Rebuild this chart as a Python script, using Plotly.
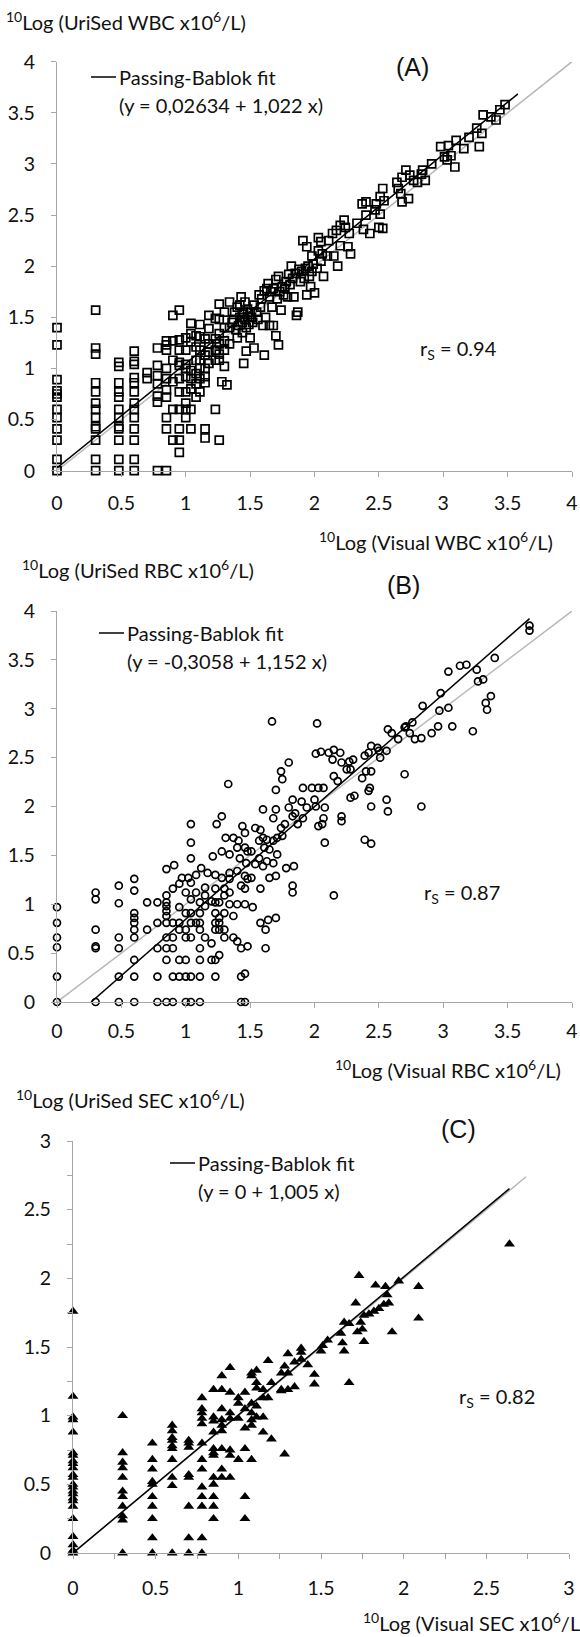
import plotly.graph_objects as go

W, H = 580, 1637

# ---------------- DATA ----------------
# Panel A: 10Log Visual WBC (x) vs 10Log UriSed WBC (y)
wbc_points = [
    (0, 1.40), (0, 1.23), (0, 0.89), (0, 0.78), (0, 0.75), (0, 0.72), (0, 0.60), (0, 0.52), (0, 0.41), (0, 0.30), (0, 0.11), (0, 0),
    (0.30, 1.57), (0.30, 1.20), (0.30, 1.14), (0.30, 0.86), (0.30, 0.77), (0.30, 0.66), (0.30, 0.60), (0.30, 0.52), (0.30, 0.43), (0.30, 0.41), (0.30, 0.30), (0.30, 0.11), (0.30, 0),
    (0.48, 1.06), (0.48, 1.02), (0.48, 0.86), (0.48, 0.77), (0.48, 0.72), (0.48, 0.60), (0.48, 0.52), (0.48, 0.43), (0.48, 0.41), (0.48, 0.30), (0.48, 0.11), (0.48, 0),
    (0.60, 1.17), (0.60, 1.07), (0.60, 1.04), (0.60, 0.91), (0.60, 0.86), (0.60, 0.77), (0.60, 0.66), (0.60, 0.60), (0.60, 0.52), (0.60, 0.41), (0.60, 0.30), (0.60, 0.11), (0.60, 0),
    (0.70, 0.96), (0.70, 0.90),
    (0.78, 1.20), (0.78, 1.03), (0.78, 0.93), (0.78, 0.85), (0.78, 0.73), (0.78, 0.67), (0.78, 0),
    (0.85, 1.27), (0.85, 1.23), (0.85, 1.18), (0.85, 1.00), (0.85, 0.90), (0.85, 0.79), (0.85, 0.72), (0.85, 0.52), (0.85, 0.41), (0.85, 0),
    (0.90, 1.52), (0.90, 1.27), (0.90, 1.08), (0.90, 0.87), (0.90, 0.60), (0.90, 0.30),
    (0.95, 1.57), (0.95, 1.28), (0.95, 1.18), (0.95, 1.06), (0.95, 1.03), (0.95, 0.90), (0.95, 0.77), (0.95, 0.60), (0.95, 0.41), (0.95, 0.30), (0.95, 0.18),
    (1.00, 1.30), (1.00, 1.18), (1.00, 1.04), (1.00, 1.00), (1.00, 0.92), (1.00, 0.77), (1.00, 0.66), (1.00, 0.60), (1.00, 0.52),
    (1.04, 1.44), (1.04, 1.34), (1.04, 1.26), (1.04, 0.98), (1.04, 0.90), (1.04, 0.80), (1.04, 0.60), (1.04, 0.41),
    (1.08, 1.32), (1.08, 1.21), (1.08, 1.08), (1.08, 0.95), (1.08, 0.85), (1.08, 0.72),
    (1.11, 1.43), (1.11, 1.31), (1.11, 1.18), (1.11, 1.08), (1.11, 1.00), (1.11, 0.90), (1.11, 0.77),
    (1.15, 1.29), (1.15, 1.13), (1.15, 1.00), (1.15, 0.92), (1.15, 0.86), (1.15, 0.41), (1.15, 0.32),
    (1.18, 1.52), (1.18, 1.39), (1.18, 1.24), (1.18, 1.16), (1.18, 1.05),
    (1.23, 1.49), (1.23, 1.29), (1.23, 1.18), (1.23, 1.08), (1.23, 0.60),
    (1.26, 1.63), (1.26, 1.48), (1.26, 1.34), (1.26, 1.24), (1.26, 1.14), (1.26, 1.08), (1.26, 0.30),
    (1.30, 1.55), (1.30, 1.40), (1.30, 1.27), (1.30, 1.18), (1.30, 1.02), (1.28, 0.87), (1.32, 0.84),
    (1.34, 1.65), (1.34, 1.40), (1.34, 1.24),
    (1.40, 1.60), (1.42, 1.50), (1.44, 1.45), (1.45, 1.55), (1.46, 1.65), (1.47, 1.40), (1.48, 1.50), (1.50, 1.55),
    (1.43, 1.70), (1.38, 1.55), (1.41, 1.42), (1.44, 1.35), (1.45, 1.05), (1.47, 1.17), (1.50, 1.30), (1.52, 1.45),
    (1.53, 1.20), (1.55, 1.55), (1.57, 1.72), (1.58, 1.60), (1.60, 1.42), (1.61, 1.13), (1.62, 1.50), (1.65, 1.42),
    (1.68, 1.42), (1.70, 1.32), (1.72, 1.23), (1.74, 1.57), (1.67, 1.60), (1.63, 1.78), (1.64, 1.83), (1.66, 1.75),
    (1.70, 1.87), (1.72, 1.90), (1.75, 1.80), (1.76, 1.72), (1.78, 1.85), (1.80, 1.92), (1.82, 2.00), (1.84, 1.70),
    (1.86, 1.52), (1.87, 1.55), (1.88, 1.97), (1.90, 1.95), (1.92, 1.88), (1.94, 1.72), (1.95, 2.00), (1.97, 1.80),
    (1.98, 1.95), (2.00, 1.74), (2.02, 1.98), (2.05, 2.05), (2.07, 1.90), (2.10, 2.10), (2.15, 2.10), (2.18, 2.00),
    (2.20, 2.20), (2.28, 2.12),
    (1.36, 1.45), (1.39, 1.38), (1.42, 1.62), (1.46, 1.48), (1.48, 1.58), (1.49, 1.43), (1.51, 1.50), (1.44, 1.53),
    (1.37, 1.48), (1.40, 1.30), (1.53, 1.62), (1.56, 1.48), (1.59, 1.68), (1.61, 1.76), (1.65, 1.70), (1.68, 1.78),
    (1.71, 1.68), (1.73, 1.75), (1.77, 1.78), (1.79, 1.70), (1.81, 1.82), (1.83, 1.88), (1.85, 1.93), (1.89, 1.85),
    (1.93, 1.98), (1.96, 1.90), (1.99, 2.02), (2.03, 2.15), (2.06, 2.12), (1.98, 2.10),
    (1.91, 2.25), (1.94, 2.19), (2.03, 2.28), (2.05, 2.24), (2.11, 2.25), (2.14, 2.32), (2.17, 2.35), (2.20, 2.40),
    (2.23, 2.45), (2.24, 2.38), (2.26, 2.19), (2.27, 2.32), (2.33, 2.42), (2.38, 2.36), (2.43, 2.32), (2.40, 2.50),
    (2.37, 2.61), (2.40, 2.63), (2.47, 2.55), (2.48, 2.61), (2.51, 2.68), (2.53, 2.76), (2.54, 2.64), (2.51, 2.51),
    (2.50, 2.38), (2.53, 2.37), (2.64, 2.82), (2.65, 2.76), (2.67, 2.71), (2.68, 2.87), (2.71, 2.94), (2.74, 2.89),
    (2.73, 2.66), (2.68, 2.63), (2.77, 2.84), (2.83, 2.90), (2.86, 2.84), (2.80, 2.82), (2.84, 2.94), (2.91, 3.00),
    (2.98, 3.17), (3.01, 3.07), (3.03, 3.04), (3.04, 3.18), (3.06, 3.08), (3.09, 2.97), (3.10, 3.23), (3.16, 3.15),
    (3.20, 3.26), (3.26, 3.35), (3.28, 3.17), (3.30, 3.30), (3.31, 3.48), (3.37, 3.46), (3.41, 3.43), (3.44, 3.53),
    (3.48, 3.58),
]

# Panel B: 10Log Visual RBC (x) vs 10Log UriSed RBC (y)
rbc_points = [
    (0, 0.97), (0, 0.81), (0, 0.66), (0, 0.56), (0, 0.26), (0, 0),
    (0.30, 1.12), (0.30, 1.05), (0.30, 0.74), (0.30, 0.57), (0.30, 0.55), (0.30, 0),
    (0.48, 1.19), (0.48, 1.01), (0.48, 0.66), (0.48, 0.55), (0.48, 0.26), (0.48, 0),
    (0.60, 1.26), (0.60, 1.14), (0.60, 0.91), (0.60, 0.86), (0.60, 0.81), (0.60, 0.74), (0.60, 0.66), (0.60, 0.43), (0.60, 0.26), (0.60, 0),
    (0.70, 1.02), (0.70, 0.74),
    (0.78, 1.02), (0.78, 0.81), (0.78, 0.55), (0.78, 0.26), (0.78, 0),
    (0.85, 1.09), (0.85, 1.02), (0.85, 0.98), (0.85, 0.93), (0.85, 0.88), (0.85, 0.81), (0.85, 0.66), (0.85, 0.55), (0.85, 0.43), (0.85, 0),
    (0.90, 1.16), (0.90, 0.81), (0.90, 0.66), (0.90, 0.55), (0.90, 0.26), (0.90, 0),
    (0.95, 1.21), (0.95, 0.97), (0.95, 0.81), (0.95, 0.74), (0.95, 0.43), (0.95, 0.26),
    (1.00, 1.12), (1.00, 0.91), (1.00, 0.74), (1.00, 0.66), (1.00, 0.43), (1.00, 0.26), (1.00, 0),
    (1.04, 1.22), (1.04, 1.05), (1.04, 0.91), (1.04, 0.81), (1.04, 0.66), (1.04, 0.26), (1.04, 0),
    (1.08, 1.12), (1.08, 0.81),
    (1.11, 1.02), (1.11, 0.91), (1.11, 0.81), (1.11, 0.74), (1.11, 0.55), (1.11, 0.43), (1.11, 0.26), (1.11, 0),
    (1.15, 1.17), (1.15, 1.09), (1.15, 0.98), (1.15, 0.66),
    (1.20, 1.03), (1.20, 0.60), (1.20, 0.43),
    (1.23, 1.16), (1.23, 1.02), (1.23, 0.91), (1.23, 0.81), (1.23, 0.74), (1.23, 0.43), (1.23, 0.26),
    (1.26, 1.02), (1.26, 0.86), (1.26, 0.81), (1.26, 0.74), (1.26, 0.48),
    (1.30, 1.16), (1.30, 1.09), (1.30, 0.91), (1.30, 0.74), (1.30, 0.66),
    (1.34, 1.26), (1.34, 1.12), (1.34, 1.00),
    (1.37, 0.88), (1.37, 0.66), (1.40, 1.00), (1.40, 0.62),
    (1.43, 1.19), (1.43, 0.55), (1.43, 0.26), (1.43, 0),
    (1.46, 1.16), (1.46, 1.00), (1.46, 0.29), (1.46, 0),
    (1.48, 1.26), (1.48, 0.57),
    (1.52, 0.97), (1.58, 1.16), (1.58, 0.81), (1.62, 0.74), (1.62, 0.55), (1.64, 0.84), (1.70, 0.86),
    (1.83, 1.19), (1.83, 1.12), (2.15, 1.09),
    (0.85, 1.36), (0.91, 1.40), (0.97, 1.27), (1.02, 1.27), (1.08, 1.30), (1.12, 1.37), (1.17, 1.32), (1.23, 1.30),
    (1.28, 1.27), (1.34, 1.32), (1.40, 1.34), (1.46, 1.29), (1.51, 1.27), (1.65, 1.27), (1.70, 1.29),
    (1.04, 1.82), (1.04, 1.63), (1.04, 1.47), (1.21, 1.49), (1.33, 2.23), (1.31, 1.68), (1.37, 1.68), (1.41, 1.65),
    (1.28, 1.54), (1.34, 1.51), (1.40, 1.58), (1.46, 1.58), (1.48, 1.54), (1.51, 1.54), (1.57, 1.47), (1.63, 1.44),
    (1.68, 1.42), (1.78, 1.37), (1.84, 1.39), (1.65, 1.56), (1.71, 1.51), (1.42, 1.47), (1.47, 1.42), (1.54, 1.41),
    (1.60, 1.39), (1.28, 1.90), (1.24, 1.82),
    (1.44, 1.80), (1.46, 1.73), (1.54, 1.78), (1.58, 1.76), (1.60, 1.97), (1.61, 1.58), (1.57, 1.65), (1.60, 1.68),
    (1.63, 1.66), (1.68, 1.65), (1.71, 1.68), (1.75, 1.70), (1.74, 1.78), (1.77, 1.82), (1.68, 1.88), (1.70, 1.97),
    (1.70, 2.17), (1.75, 2.28), (1.74, 2.36), (1.80, 2.45), (1.80, 1.99), (1.83, 2.07), (1.83, 1.90), (1.87, 1.82),
    (1.85, 1.93), (1.91, 1.88), (1.94, 1.99), (1.90, 2.05), (1.91, 2.19), (2.07, 1.88), (2.08, 1.99), (2.07, 2.19),
    (2.03, 2.19), (1.98, 2.19), (2.00, 2.07), (2.01, 2.00), (2.06, 1.82), (2.03, 1.80), (2.08, 1.63), (2.21, 1.85),
    (2.21, 1.90), (2.28, 2.09), (2.31, 2.11), (2.40, 2.36), (2.44, 2.36), (2.37, 2.29), (2.43, 2.19), (2.42, 2.16),
    (2.44, 1.62), (2.39, 1.66), (2.83, 2.00), (2.57, 1.95), (2.56, 2.07), (2.44, 2.00), (2.70, 2.33),
    (1.67, 2.87), (2.02, 2.85), (2.01, 2.54), (2.05, 2.56), (2.11, 2.55), (2.15, 2.58), (2.20, 2.55), (2.14, 2.48),
    (2.21, 2.45), (2.27, 2.46), (2.30, 2.48), (2.25, 2.38), (2.28, 2.38), (2.18, 2.26), (2.15, 2.31), (2.39, 2.52),
    (2.42, 2.55), (2.44, 2.62), (2.49, 2.60), (2.50, 2.57), (2.51, 2.50), (2.56, 2.57), (2.60, 2.75), (2.57, 2.79),
    (2.65, 2.69), (2.70, 2.81), (2.71, 2.82), (2.74, 2.75), (2.76, 2.86), (2.78, 2.69), (2.83, 2.70), (2.84, 3.03),
    (2.91, 2.75), (2.96, 2.82), (2.97, 2.98), (2.98, 3.16), (3.04, 3.01), (3.07, 2.82), (3.23, 2.77), (3.27, 3.28),
    (3.33, 3.06), (3.34, 2.99), (3.37, 3.13),
    (3.04, 3.38), (3.13, 3.44), (3.18, 3.45), (3.26, 3.40), (3.40, 3.52), (3.67, 3.85), (3.67, 3.80), (3.31, 3.30),
]

# Panel C: 10Log Visual SEC (x) vs 10Log UriSed SEC (y)
sec_points = [
    (0, 1.76), (0, 1.14), (0, 0.99), (0, 0.97), (0, 0.88), (0, 0.73), (0, 0.71), (0, 0.67), (0, 0.65), (0, 0.62),
    (0, 0.57), (0, 0.55), (0, 0.50), (0, 0.48), (0, 0.45), (0, 0.43), (0, 0.40), (0, 0.38), (0, 0.34), (0, 0.25),
    (0, 0.12), (0, 0.06), (0, 0.02), (0, 0),
    (0.30, 1.00), (0.30, 0.73), (0.30, 0.66), (0.30, 0.62), (0.30, 0.55), (0.30, 0.45), (0.30, 0.41), (0.30, 0.34), (0.30, 0.27), (0.30, 0.24), (0.30, 0),
    (0.48, 0.80), (0.48, 0.68), (0.48, 0.61), (0.48, 0.52), (0.48, 0.50), (0.48, 0.41), (0.48, 0.34), (0.48, 0.25), (0.48, 0.11), (0.48, 0),
    (0.60, 0.93), (0.60, 0.89), (0.60, 0.84), (0.60, 0.82), (0.60, 0.78), (0.60, 0.76), (0.60, 0.68), (0.60, 0.55), (0.60, 0.49), (0.60, 0),
    (0.70, 0.82), (0.70, 0.80), (0.70, 0.77), (0.70, 0.57), (0.70, 0.55), (0.70, 0.34), (0.70, 0.11), (0.70, 0),
    (0.78, 1.13), (0.78, 1.05), (0.78, 1.02), (0.78, 0.98), (0.78, 0.94), (0.78, 0.80), (0.78, 0.68), (0.78, 0.61), (0.78, 0.48), (0.78, 0.41), (0.78, 0.34), (0.78, 0.11), (0.78, 0),
    (0.85, 1.19), (0.85, 0.99), (0.85, 0.96), (0.85, 0.88), (0.85, 0.76), (0.85, 0.73), (0.85, 0.71), (0.85, 0.55), (0.85, 0.50), (0.85, 0.41), (0.85, 0.34), (0.85, 0.25),
    (0.90, 1.29), (0.90, 1.19), (0.90, 1.05), (0.90, 0.97), (0.90, 0.93), (0.90, 0.89), (0.90, 0.76), (0.90, 0.61), (0.90, 0.55),
    (0.95, 1.35), (0.95, 1.17), (0.95, 1.02), (0.95, 0.98), (0.95, 0.75), (0.95, 0.71), (0.95, 0.55),
    (1.00, 1.13), (1.00, 1.09), (1.00, 0.98), (1.00, 0.68),
    (1.04, 1.17), (1.04, 1.05), (1.04, 0.91), (1.04, 0.76), (1.04, 0.41), (1.04, 0.25),
    (1.08, 1.31), (1.08, 1.29), (1.08, 1.09), (1.08, 1.02), (1.08, 0.97), (1.08, 0.93), (1.08, 0.68),
    (1.11, 1.33), (1.11, 1.24), (1.11, 1.20), (1.11, 1.07), (1.11, 0.99),
    (1.15, 1.19), (1.15, 1.13), (1.15, 0.99), (1.15, 0.88),
    (1.18, 1.40), (1.18, 1.13), (1.20, 1.24), (1.20, 0.83), (1.26, 1.31), (1.26, 1.19), (1.26, 1.18), (1.28, 1.36),
    (1.28, 0.72), (1.30, 1.45), (1.30, 1.31), (1.30, 1.19), (1.34, 1.39), (1.34, 1.21), (1.38, 1.49), (1.38, 1.41),
    (1.42, 1.37), (1.46, 1.30), (1.46, 1.23), (1.50, 1.47), (1.67, 1.24),
    (1.38, 1.46), (1.51, 1.51), (1.54, 1.55), (1.62, 1.60), (1.63, 1.53), (1.64, 1.47), (1.64, 1.68), (1.67, 1.67),
    (1.72, 1.61), (1.74, 1.68), (1.75, 1.63), (1.76, 1.54), (1.76, 1.73), (1.79, 1.74), (1.82, 1.76), (1.85, 1.78),
    (1.88, 1.81), (1.90, 1.88), (1.91, 1.82), (1.89, 1.94), (1.83, 1.95), (1.71, 1.82), (1.73, 2.02), (1.97, 1.98),
    (2.09, 1.94), (2.09, 1.71), (1.93, 1.61), (2.64, 2.25),
]

# Passing-Bablok fits (intercept, slope) and drawn x-extent
wbc_fit = (0.02634, 1.022)
rbc_fit = (-0.3058, 1.152)
sec_fit = (0.0, 1.005)
wbc_fit_x = [0, 3.58]
rbc_fit_x = [0.265, 3.67]
sec_fit_x = [0, 2.64]
# line of identity extent
wbc_ident_x = [0, 4]
rbc_ident_x = [0, 4]
sec_ident_x = [0, 2.74]

wbc_rs = "0.94"
rbc_rs = "0.87"
sec_rs = "0.82"
wbc_eq = "(y = 0,02634 + 1,022 x)"
rbc_eq = "(y = -0,3058 + 1,152 x)"
sec_eq = "(y = 0 + 1,005 x)"

# ---------------- FIGURE ----------------
def fx(px):
    return px / W


def fy(py):
    return 1 - py / H


FONT = "Lato"
AXC = "#a6a6a6"
TXT = "#111111"

panels = [
    dict(n="", pts=wbc_points, sym="square-open", size=8, fit=wbc_fit, fitx=wbc_fit_x, idx=wbc_ident_x,
         rng=4, xd=(57, 572), yd=(61.7, 470.7), minor=False, xso=10),
    dict(n="2", pts=rbc_points, sym="circle-open", size=7, fit=rbc_fit, fitx=rbc_fit_x, idx=rbc_ident_x,
         rng=4, xd=(57, 572), yd=(611, 1002), minor=False, xso=6),
    dict(n="3", pts=sec_points, sym="triangle-up", size=9.5, fit=sec_fit, fitx=sec_fit_x, idx=sec_ident_x,
         rng=3, xd=(73, 569), yd=(1141, 1553), minor=True, xso=12),
]

fig = go.Figure()
layout = {}
for p in panels:
    xa = "x" + p["n"]
    ya = "y" + p["n"]
    a, b = p["fit"]
    fig.add_trace(go.Scatter(x=p["idx"], y=p["idx"], mode="lines", xaxis=xa, yaxis=ya,
                             line=dict(color="#b8b8b8", width=1.5), showlegend=False, hoverinfo="skip"))
    xs = [q[0] for q in p["pts"]]
    ys = [q[1] for q in p["pts"]]
    mk = dict(symbol=p["sym"], size=p["size"], color="black", line=dict(width=1.7, color="black"))
    if p["sym"] == "triangle-up":
        mk["line"] = dict(width=0)
    fig.add_trace(go.Scatter(x=xs, y=ys, mode="markers", xaxis=xa, yaxis=ya, marker=mk,
                             cliponaxis=False, showlegend=False))
    fx_ = p["fitx"]
    fig.add_trace(go.Scatter(x=fx_, y=[a + b * v for v in fx_], mode="lines", xaxis=xa, yaxis=ya,
                             line=dict(color="black", width=1.5), showlegend=False, cliponaxis=False))
    common = dict(range=[0, p["rng"]], dtick=0.5, tick0=0, showgrid=False, zeroline=False,
                  showline=True, linecolor=AXC, linewidth=1.3, ticks="outside", ticklen=5,
                  tickcolor=AXC, tickwidth=1.3, tickfont=dict(family=FONT, size=19.5, color=TXT),
                  fixedrange=True, automargin=False, ticklabeloverflow="allow")
    if p["minor"]:
        common["minor"] = dict(dtick=0.25, ticks="outside", ticklen=5, tickcolor=AXC, tickwidth=1.3)
    layout["xaxis" + p["n"]] = dict(common, domain=[fx(p["xd"][0]), fx(p["xd"][1])], anchor=ya,
                                    ticklabelstandoff=p["xso"])
    layout["yaxis" + p["n"]] = dict(common, domain=[fy(p["yd"][1]), fy(p["yd"][0])], anchor=xa,
                                    ticklabelstandoff=12)

fig.update_layout(**layout)

ann = []
shapes = []


def text(px, py, s, size=20, anchor="left", family=FONT):
    ann.append(dict(x=fx(px), y=fy(py), xref="paper", yref="paper", text=s, showarrow=False,
                    xanchor=anchor, yanchor="middle", font=dict(family=family, size=size, color=TXT)))


def legend(x0, py, eq):
    shapes.append(dict(type="line", xref="paper", yref="paper", x0=fx(x0), x1=fx(x0 + 25), y0=fy(py), y1=fy(py),
                       line=dict(color="black", width=1.5)))
    text(x0 + 26, py, "Passing-Bablok fit", size=20)
    text(x0 + 26, py + 28, eq, size=20)


# Panel A
text(4, 21, "<sup>10</sup>Log (UriSed WBC x10<sup>6</sup>/L)")
text(555, 541, "<sup>10</sup>Log (Visual WBC x10<sup>6</sup>/L)", anchor="right")
text(412, 67, "(A)", size=25, anchor="center", family="Liberation Sans")
legend(91, 77, wbc_eq)
text(458, 349, "r<sub>S</sub> = " + wbc_rs, anchor="center")

# Panel B
text(20, 569, "<sup>10</sup>Log (UriSed RBC x10<sup>6</sup>/L)")
text(563, 1069, "<sup>10</sup>Log (Visual RBC x10<sup>6</sup>/L)", anchor="right")
text(403, 585, "(B)", size=25, anchor="center", family="Liberation Sans")
legend(99, 633, rbc_eq)
text(462, 893, "r<sub>S</sub> = " + rbc_rs, anchor="center")

# Panel C
text(14, 1099, "<sup>10</sup>Log (UriSed SEC x10<sup>6</sup>/L)")
text(588, 1622, "<sup>10</sup>Log (Visual SEC x10<sup>6</sup>/L)", anchor="right")
text(458, 1129, "(C)", size=25, anchor="center", family="Liberation Sans")
legend(170, 1163, sec_eq)
text(497, 1397, "r<sub>S</sub> = " + sec_rs, anchor="center")

fig.update_layout(width=W, height=H, margin=dict(l=0, r=0, t=0, b=0), plot_bgcolor="white",
                  paper_bgcolor="white", annotations=ann, shapes=shapes, showlegend=False)

fig.write_html("out.html", config={"displayModeBar": False},
               post_script="document.body.style.margin='0px';")
